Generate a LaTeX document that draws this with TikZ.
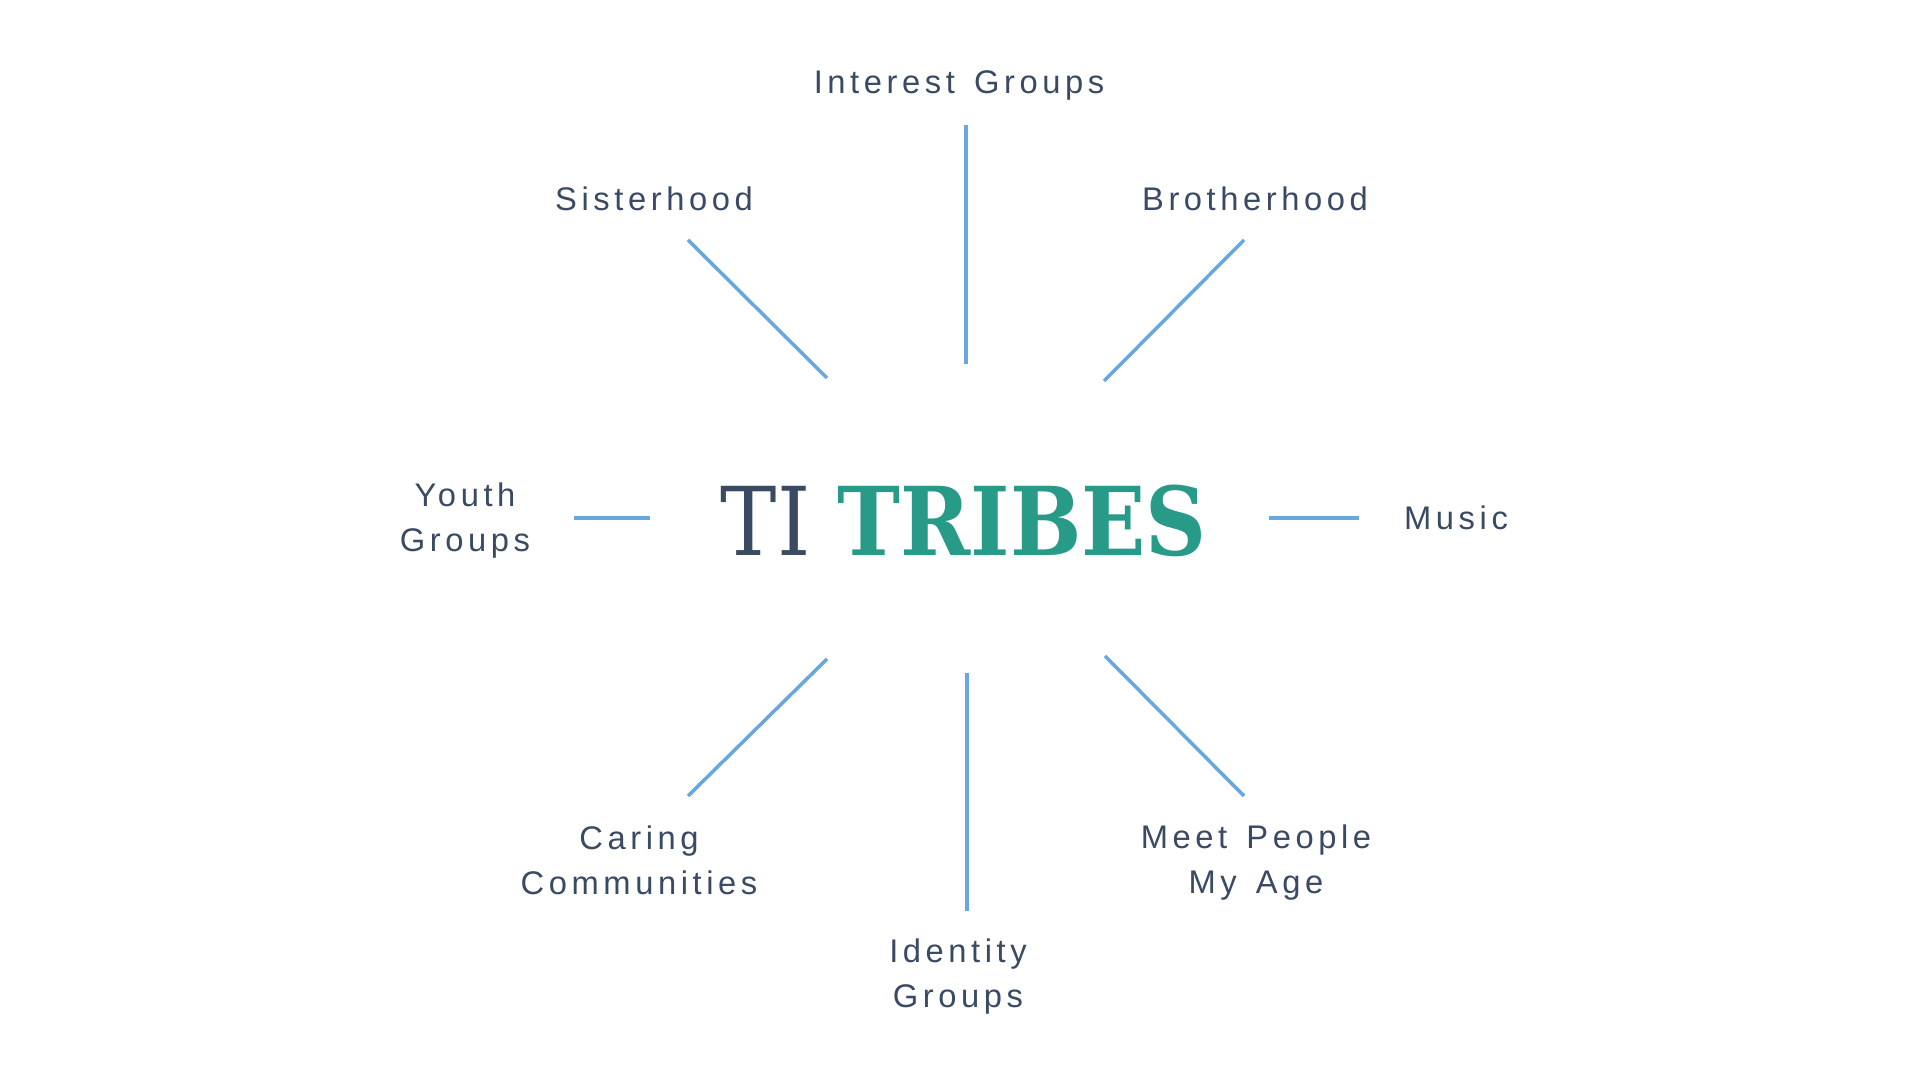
\documentclass[tikz,border=0pt]{standalone}
\usepackage{fontspec}
\setmainfont{Liberation Sans}
\newfontfamily\labelfont[LetterSpace=14, WordSpace=1.4]{Liberation Sans}
\newfontfamily\titlefont[FakeStretch=0.89]{DejaVu Serif}
\usepackage{xcolor}
\usetikzlibrary{positioning}
\definecolor{slate}{HTML}{3A4A63}
\definecolor{tribeteal}{HTML}{279A88}
\definecolor{spokeblue}{HTML}{68A8DE}

\begin{document}
\begin{tikzpicture}[x=0.01cm, y=-0.01cm, group/.style={text=slate, align=center, inner sep=0pt, font=\labelfont\fontsize{9.3}{12.8}\selectfont}, spoke/.style={draw=spokeblue, line width=1pt}]
\useasboundingbox (0,0) rectangle (1920,1080);
\node[inner sep=0pt, font=\titlefont\fontsize{27}{30}\selectfont] (title) at (964,521) {\textcolor{slate}{TI} \textcolor{tribeteal}{\bfseries TRIBES}};
\node[group] (interest) at (959,85) {Interest Groups};
\node[group] (sister) at (654,199) {Sisterhood};
\node[group] (brother) at (1255,199) {Brotherhood};
\node[group] (youth) at (465,521) {Youth\\Groups};
\node[group] (music) at (1456,518) {Music};
\node[group] (caring) at (639,860) {Caring\\Communities};
\node[group] (identity) at (958,977) {Identity\\Groups};
\node[group] (meet) at (1256,863) {Meet People\\My Age};
% spoke ends
\coordinate (n-out) at (966,125); \coordinate (n-in) at (966,364);
\coordinate (nw-out) at (688,240); \coordinate (nw-in) at (827,378);
\coordinate (ne-out) at (1244,240); \coordinate (ne-in) at (1104,381);
\coordinate (w-out) at (574,518); \coordinate (w-in) at (650,518);
\coordinate (e-out) at (1359,518); \coordinate (e-in) at (1269,518);
\coordinate (sw-out) at (688,796); \coordinate (sw-in) at (827,659);
\coordinate (s-out) at (967,911); \coordinate (s-in) at (967,673);
\coordinate (se-out) at (1244,796); \coordinate (se-in) at (1105,656);
\foreach \d in {n,nw,ne,w,e,sw,s,se}
  \draw[spoke] (\d-in) -- (\d-out);
\end{tikzpicture}
\end{document}
